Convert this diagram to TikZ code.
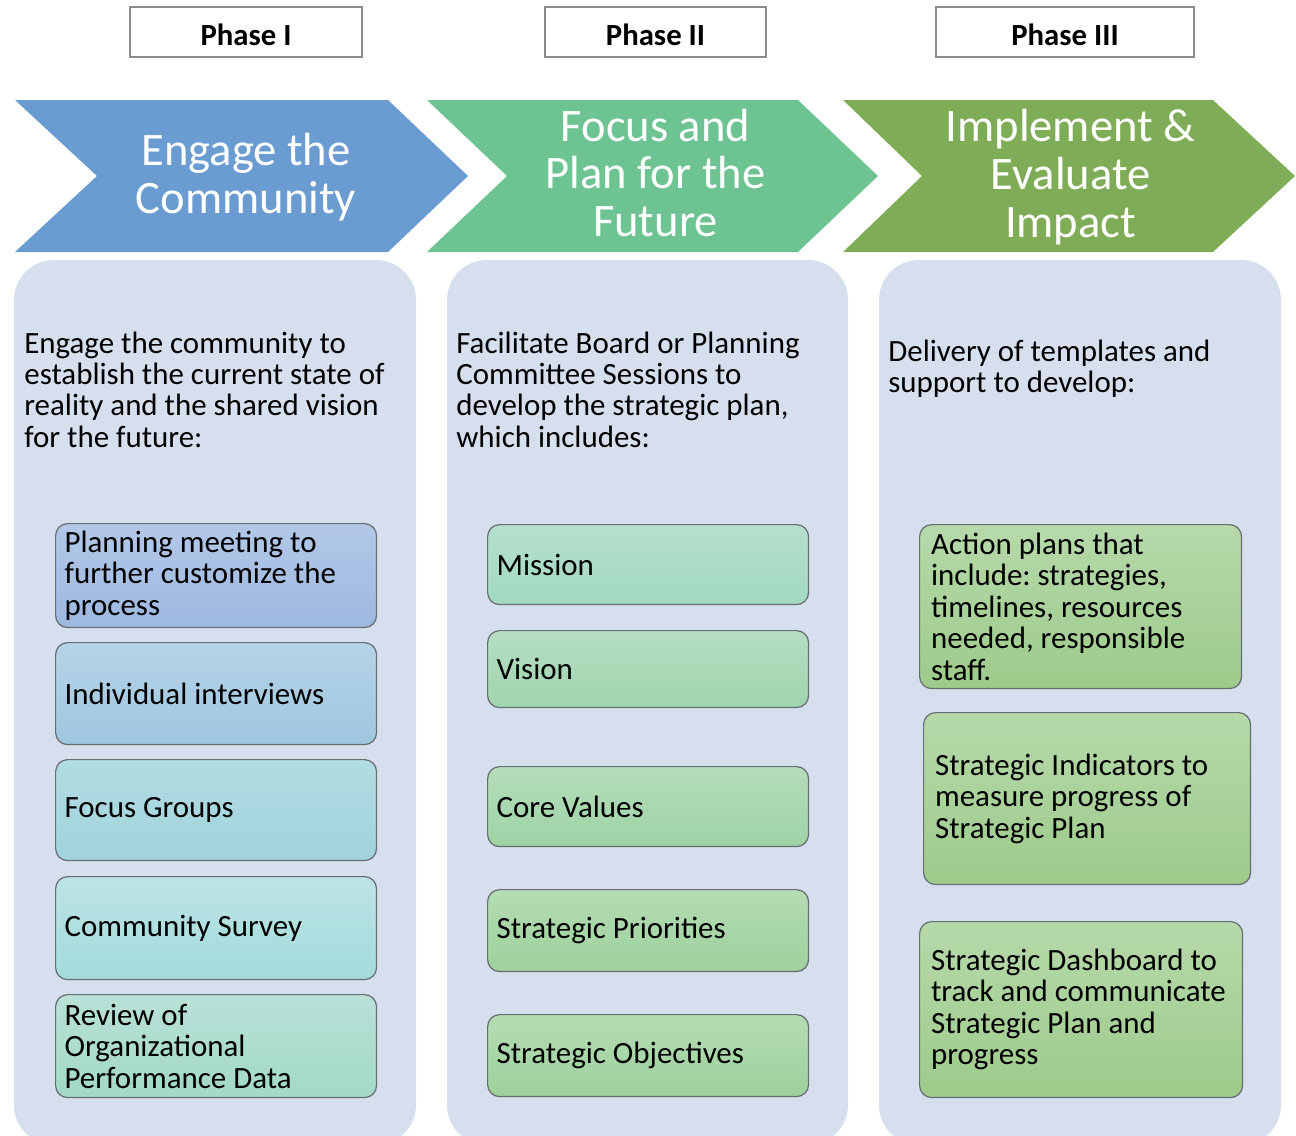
\documentclass[tikz,border=0pt]{standalone}
\usepackage{fontspec}
\setmainfont{Carlito}
\usetikzlibrary{shapes,backgrounds,calc}
\hyphenpenalty=10000
\exhyphenpenalty=10000
\frenchspacing
\definecolor{engageblue}{RGB}{106,155,209}
\definecolor{focusgreen}{RGB}{110,195,147}
\definecolor{impactgreen}{RGB}{127,173,87}
\definecolor{panelgray}{RGB}{214,223,238}
\definecolor{phaseline}{RGB}{140,140,140}
\definecolor{itemline}{RGB}{105,110,115}
% item fills, top / bottom of each card
\definecolor{blueA}{RGB}{179,200,232}  \definecolor{blueB}{RGB}{157,184,224}
\definecolor{skyA}{RGB}{182,211,232}   \definecolor{skyB}{RGB}{158,199,223}
\definecolor{cyanA}{RGB}{178,220,227}  \definecolor{cyanB}{RGB}{161,211,221}
\definecolor{aquaA}{RGB}{189,227,230}  \definecolor{aquaB}{RGB}{163,220,219}
\definecolor{tealA}{RGB}{185,225,215}  \definecolor{tealB}{RGB}{162,217,200}
\definecolor{mintA}{RGB}{181,224,206}  \definecolor{mintB}{RGB}{162,216,192}
\definecolor{sageA}{RGB}{181,221,194}  \definecolor{sageB}{RGB}{160,213,174}
\definecolor{leafA}{RGB}{181,221,186}  \definecolor{leafB}{RGB}{157,211,165}
\definecolor{grassA}{RGB}{180,220,180} \definecolor{grassB}{RGB}{157,209,156}
\definecolor{limeA}{RGB}{182,217,170}  \definecolor{limeB}{RGB}{157,203,139}
\newcommand\cardfont{\fontsize{17.6}{17.9}\selectfont}

\tikzset{
  phasebox/.style={draw=phaseline, line width=0.9pt, fill=white, minimum height=1cm,
    text height=14.8pt, text depth=0pt, font=\fontsize{17.5}{20}\selectfont\bfseries},
  chevtext/.style={text=white, align=center, inner sep=0pt,
    font=\fontsize{26.5}{27.3}\selectfont},
  introtext/.style={anchor=base west, inner sep=0pt, text width=7.6cm, align=flush left,
    font=\cardfont},
  itembox/.style={draw=itemline, line width=0.7pt, rounded corners=0.24cm,
    inner xsep=0.18cm, inner ysep=0pt, align=flush left, anchor=north west, font=\cardfont},
}

\begin{document}
\begin{tikzpicture}[x=0.02cm, y=-0.02cm]
\useasboundingbox (0,0) rectangle (1296,1136);

% Phase headers
\node[phasebox, minimum width=4.64cm] (phaseone)   at (246,32)    {Phase I};
\node[phasebox, minimum width=4.42cm] (phasetwo)   at (655.5,32)  {Phase II};
\node[phasebox, minimum width=5.16cm] (phasethree) at (1065,32)   {Phase III};

% Chevron 1: 15 to 468
\fill[engageblue] (15,100) -- (388,100) -- (468,176) -- (388,252)
  -- (15,252) -- (97,176) -- cycle;
% Chevron 2: 427 to 878
\fill[focusgreen] (427,100) -- (798,100) -- (878,176) -- (798,252)
  -- (427,252) -- (507,176) -- cycle;
% Chevron 3: 843 to 1295
\fill[impactgreen] (843,100) -- (1213,100) -- (1295,176) -- (1213,252)
  -- (843,252) -- (922,176) -- cycle;

\node[chevtext] (engage) at (246,177)    {Engage the\\Community};
\node[chevtext] (focus)  at (655.5,173)  {Focus and\\Plan for the\\Future};
\node[chevtext] (impact) at (1070.5,177) {Implement \&\\Evaluate\\Impact};

% Column panels
\fill[panelgray, rounded corners=0.8cm] (14,260)  rectangle (416,1145);
\fill[panelgray, rounded corners=0.8cm] (447,260) rectangle (848,1145);
\fill[panelgray, rounded corners=0.8cm] (879,260) rectangle (1281,1145);

% Column intros
\node[introtext] (introone) at (24,353) {Engage the community to\\establish the current state of\\reality and the shared vision\\for the future:};
\node[introtext] (introtwo) at (456,353) {Facilitate Board or Planning\\Committee Sessions to\\develop the strategic plan,\\which includes:};
\node[introtext] (introthree) at (888,361) {Delivery of templates and\\support to develop:};

% Phase I items
\node[itembox, text width=6.06cm, minimum height=2.08cm, top color=blueA, bottom color=blueB]
  (planning) at (55,523) {Planning meeting to\\further customize the\\process};
\node[itembox, text width=6.06cm, minimum height=2.04cm, top color=skyA, bottom color=skyB]
  (interviews) at (55,642) {Individual interviews};
\node[itembox, text width=6.06cm, minimum height=2.02cm, top color=cyanA, bottom color=cyanB]
  (groups) at (55,759) {Focus Groups};
\node[itembox, text width=6.06cm, minimum height=2.06cm, top color=aquaA, bottom color=aquaB]
  (survey) at (55,876) {Community Survey};
\node[itembox, text width=6.06cm, minimum height=2.06cm, top color=tealA, bottom color=tealB]
  (review) at (55,994) {Review of\\Organizational\\Performance Data};

% Phase II items
\node[itembox, text width=6.06cm, minimum height=1.6cm, top color=mintA, bottom color=mintB]
  (mission) at (487,524) {Mission};
\node[itembox, text width=6.06cm, minimum height=1.54cm, top color=sageA, bottom color=sageB]
  (vision) at (487,630) {Vision};
\node[itembox, text width=6.06cm, minimum height=1.6cm, top color=leafA, bottom color=leafB]
  (values) at (487,766) {Core Values};
\node[itembox, text width=6.06cm, minimum height=1.64cm, top color=grassA, bottom color=grassB]
  (priorities) at (487,889) {Strategic Priorities};
\node[itembox, text width=6.06cm, minimum height=1.64cm, top color=grassA, bottom color=grassB]
  (objectives) at (487,1014) {Strategic Objectives};

% Phase III items
\node[itembox, inner xsep=0.23cm, text width=5.98cm, minimum height=3.28cm, top color=limeA, bottom color=limeB]
  (actions) at (919,524) {Action plans that\\include: strategies,\\timelines, resources\\needed, responsible\\staff.};
\node[itembox, inner xsep=0.23cm, text width=6.08cm, minimum height=3.44cm, top color=limeA, bottom color=limeB]
  (indicators) at (923,712) {Strategic Indicators to\\measure progress of\\Strategic Plan};
\node[itembox, inner xsep=0.23cm, text width=6.0cm, minimum height=3.52cm, top color=limeA, bottom color=limeB]
  (dashboard) at (919,921) {Strategic Dashboard to\\track and communicate\\Strategic Plan and\\progress};
\end{tikzpicture}
\end{document}
